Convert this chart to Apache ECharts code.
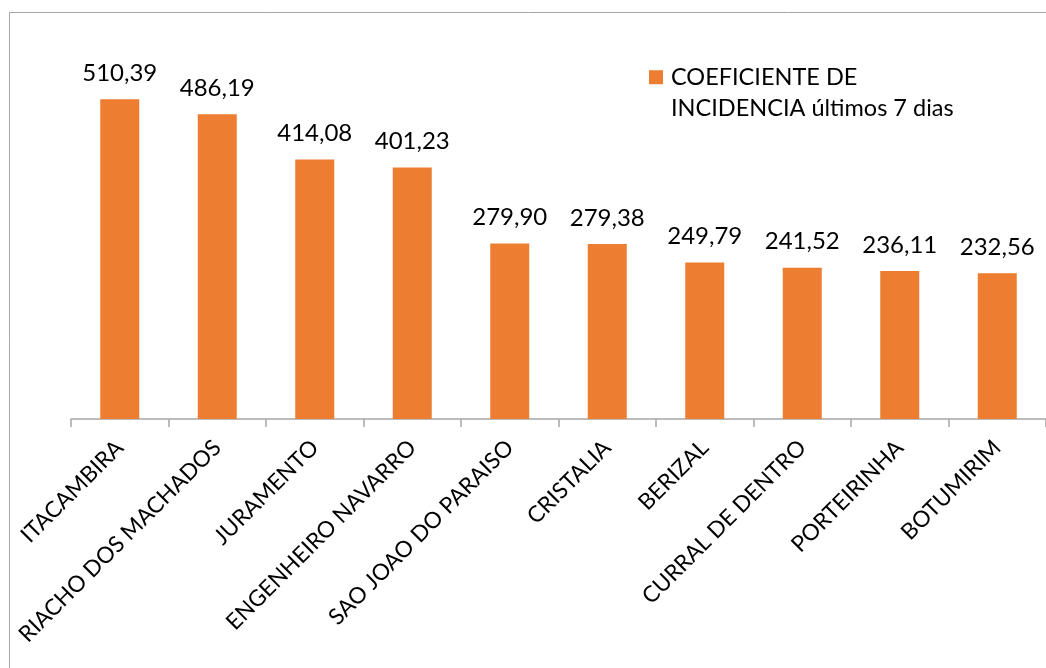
<!DOCTYPE html>
<html>
<head>
<meta charset="utf-8">
<script src="https://cdn.jsdelivr.net/npm/echarts@6/dist/echarts.min.js"></script>
<style>
  html, body { margin: 0; padding: 0; background: #ffffff; }
  #chart { width: 1046px; height: 668px; }
</style>
</head>
<body>
<div id="chart"></div>
<script>
// municipios
var categories = ['ITACAMBIRA', 'RIACHO DOS MACHADOS', 'JURAMENTO', 'ENGENHEIRO NAVARRO',
  'SAO JOAO DO PARAISO', 'CRISTALIA', 'BERIZAL', 'CURRAL DE DENTRO', 'PORTEIRINHA', 'BOTUMIRIM'];
// coeficiente de incidencia (últimos 7 dias)
var values = [510.39, 486.19, 414.08, 401.23, 279.90, 279.38, 249.79, 241.52, 236.11, 232.56];
var seriesName = 'COEFICIENTE DE INCIDENCIA últimos 7 dias';

var font = 'Lato';

var myChart = echarts.init(document.getElementById('chart'));
myChart.setOption({
  backgroundColor: '#ffffff',
  animation: false,
  textStyle: { fontFamily: font },
  // moldura do grafico
  graphic: [{
    type: 'rect',
    shape: { x: 9.5, y: 12.5, width: 1100, height: 700 },
    style: { fill: 'none', stroke: '#a6a6a6', lineWidth: 1 },
    silent: true
  }],
  legend: {
    left: 649,
    top: 30,
    padding: 0,
    itemWidth: 14,
    itemHeight: 14,
    icon: 'rect',
    // linha vazia em cima para alinhar o quadrado com a primeira linha
    formatter: function () {
      return ' \nCOEFICIENTE DE\nINCIDENCIA últimos 7 dias';
    },
    textStyle: { fontSize: 23.5, color: '#000', lineHeight: 31.5, fontFamily: font, padding: [0, 0, 0, 3] }
  },
  grid: { left: 71, width: 986, top: 43, height: 376 },
  xAxis: {
    type: 'category',
    data: categories,
    axisLine: { lineStyle: { color: '#a6a6a6', width: 1.5 } },
    axisTick: { show: true, length: 8, lineStyle: { color: '#a6a6a6', width: 1.5 } },
    axisLabel: {
      rotate: 45,
      interval: 0,
      margin: 25,
      fontSize: 22.5,
      color: '#000',
      fontFamily: font
    }
  },
  yAxis: {
    type: 'value',
    min: 0,
    max: 600,
    show: false
  },
  series: [{
    name: seriesName,
    type: 'bar',
    data: values,
    barWidth: 39,
    itemStyle: { color: '#ED7D31' },
    label: {
      show: true,
      position: 'top',
      distance: 14,
      fontSize: 24,
      color: '#000',
      fontFamily: font,
      formatter: function (p) {
        return p.value.toFixed(2).replace('.', ',');
      }
    }
  }]
});
</script>
</body>
</html>
